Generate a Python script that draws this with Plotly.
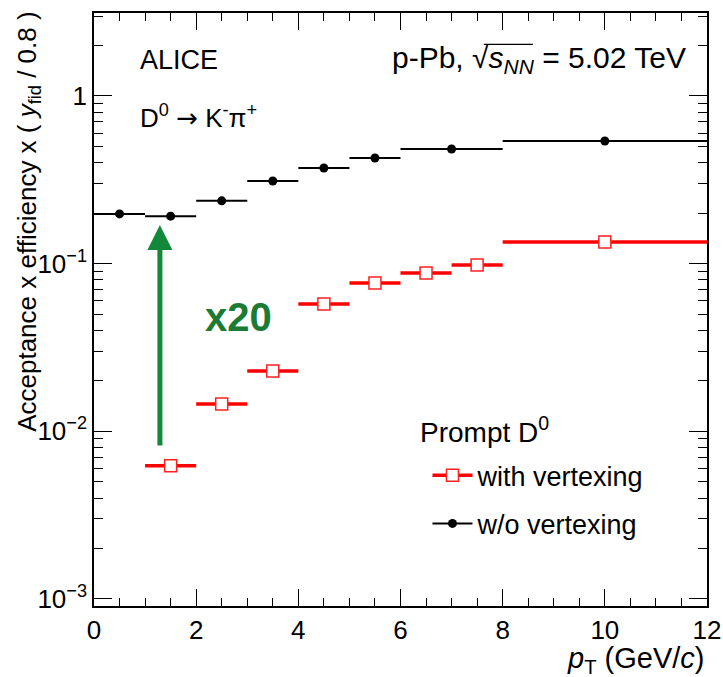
import plotly.graph_objects as go
import numpy as np

# ---- data ----
pt_lo_wo = [0, 1, 2, 3, 4, 5, 6, 8]
pt_hi_wo = [1, 2, 3, 4, 5, 6, 8, 12]
eff_wo = [0.198, 0.192, 0.237, 0.311, 0.372, 0.427, 0.483, 0.539]

pt_lo_w = [1, 2, 3, 4, 5, 6, 7, 8]
pt_hi_w = [2, 3, 4, 5, 6, 7, 8, 12]
eff_w = [0.00622, 0.01456, 0.0229, 0.0575, 0.0767, 0.0880, 0.0982, 0.1346]

ytick_vals = [0.001, 0.01, 0.1, 1]
ytick_text = ["10<sup>\u22123</sup>", "10<sup>\u22122</sup>", "10<sup>\u22121</sup>", "1"]
xtick_vals = [0, 2, 4, 6, 8, 10, 12]

arrow_x = 1.29
arrow_from = 0.00807
arrow_to = 0.170

FONT = "Liberation Sans, Arial, Helvetica, sans-serif"
GREEN = "#13883a"


def centers(lo, hi):
    return [(a + b) / 2 for a, b in zip(lo, hi)]


def halfw(lo, hi):
    return [(b - a) / 2 for a, b in zip(lo, hi)]


fig = go.Figure()

# data traces
fig.add_trace(go.Scatter(
    x=centers(pt_lo_wo, pt_hi_wo), y=eff_wo, mode="markers",
    marker=dict(symbol="circle", size=9, color="black"),
    error_x=dict(type="data", array=halfw(pt_lo_wo, pt_hi_wo), width=0, thickness=2, color="black"),
    showlegend=False))
fig.add_trace(go.Scatter(
    x=centers(pt_lo_w, pt_hi_w), y=eff_w, mode="markers",
    marker=dict(symbol="square", size=12, color="white", line=dict(color="#ff2020", width=1.5)),
    error_x=dict(type="data", array=halfw(pt_lo_w, pt_hi_w), width=0, thickness=3.5, color="#ff0000"),
    showlegend=False))

# legend entries
fig.add_trace(go.Scatter(
    x=[None], y=[None], mode="lines+markers", name="with vertexing", legendgroup="a",
    line=dict(color="#ff0000", width=3.5),
    marker=dict(symbol="square", size=12, color="white", line=dict(color="#ff2020", width=1.5))))
fig.add_trace(go.Scatter(
    x=[None], y=[None], mode="lines+markers", name="w/o vertexing", legendgroup="b",
    line=dict(color="black", width=2),
    marker=dict(symbol="circle", size=9, color="black")))

axis_common = dict(
    showline=True, linecolor="black", linewidth=1.5, mirror="ticks",
    ticks="inside", tickcolor="black", tickwidth=1, showgrid=False, zeroline=False,
    automargin=False,
    tickfont=dict(family=FONT, size=26, color="black"),
)

fig.update_xaxes(range=[0, 12], tickvals=xtick_vals, ticklen=17,
                 minor=dict(ticks="inside", ticklen=8, dtick=0.5, tickcolor="black", showgrid=False),
                 **axis_common)
fig.update_yaxes(type="log", range=[np.log10(0.001) - 0.042, 0.495],
                 tickvals=ytick_vals, ticktext=ytick_text, ticklen=18,
                 minor=dict(ticks="inside", ticklen=9, tickcolor="black", showgrid=False, dtick="D1"),
                 **axis_common)

annotations = [
    dict(text="ALICE", x=0.072, y=0.921, xref="paper", yref="paper", xanchor="left", yanchor="middle",
         showarrow=False, font=dict(family=FONT, size=27, color="black")),
    dict(text="p-Pb, \u221a<i>s</i><sub><i>NN</i></sub> = 5.02 TeV", x=0.483, y=0.921, xref="paper", yref="paper",
         xanchor="left", yanchor="middle", showarrow=False, font=dict(family=FONT, size=30, color="black")),
    dict(text="D<sup>0</sup> <span style=\"font-family:'DejaVu Sans'\">\u2192</span> K<sup>-</sup>\u03c0<sup>+</sup>",
         x=0.072, y=0.826, xref="paper", yref="paper",
         xanchor="left", yanchor="middle", showarrow=False, font=dict(family=FONT, size=26, color="black")),
    dict(text="<b>x20</b>", x=0.2365, y=0.487, xref="paper", yref="paper", xanchor="center", yanchor="middle",
         showarrow=False, font=dict(family=FONT, size=40, color="#1b7a34")),
    dict(text="Acceptance x efficiency x ( <i>y</i><sub>fid</sub> / 0.8 )", x=-0.108, y=1.005,
         xref="paper", yref="paper", xanchor="center", yanchor="top", textangle=-90, showarrow=False,
         font=dict(family=FONT, size=26, color="black")),
    dict(text="<i>p</i><sub>T</sub> (GeV/<i>c</i>)", x=1.0, y=-0.058, xref="paper", yref="paper",
         xanchor="right", yanchor="top", showarrow=False, font=dict(family=FONT, size=29, color="black")),
    dict(text="Prompt D<sup>0</sup>", x=0.5285, y=0.297, xref="paper", yref="paper",
         xanchor="left", yanchor="middle", showarrow=False, font=dict(family=FONT, size=28, color="black")),
    # arrow
    dict(text="", x=arrow_x, y=np.log10(arrow_to), ax=arrow_x, ay=np.log10(arrow_from),
         xref="x", yref="y", axref="x", ayref="y", showarrow=True, arrowhead=2, arrowsize=1.0,
         arrowwidth=5, arrowcolor=GREEN, standoff=0, startstandoff=0),
]

shapes = [
    # overline of the square root
    dict(type="line", xref="paper", yref="paper", x0=0.636, x1=0.716, y0=0.947, y1=0.947,
         line=dict(color="black", width=1.3)),
]

fig.update_layout(
    width=723, height=677,
    margin=dict(l=94, r=16, t=13, b=71, autoexpand=False),
    paper_bgcolor="white", plot_bgcolor="white",
    font=dict(family=FONT, color="black"),
    annotations=annotations, shapes=shapes,
    legend=dict(x=0.544, y=0.261, xanchor="left", yanchor="top", bgcolor="rgba(0,0,0,0)",
                font=dict(family=FONT, size=27), tracegroupgap=10, itemwidth=40),
)

fig.write_html("out.html", config={"displayModeBar": False},
               post_script="document.body.style.margin='0';document.body.style.padding='0';")
